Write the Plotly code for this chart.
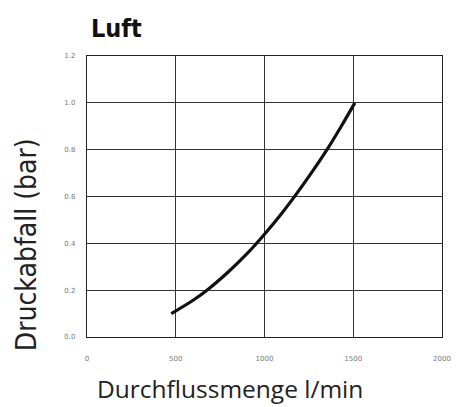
import plotly.graph_objects as go

flow = [475, 600, 681, 800, 903, 1000, 1100, 1176, 1270, 1352, 1430, 1509]
pressure_drop = [0.100, 0.158, 0.203, 0.281, 0.357, 0.439, 0.531, 0.607, 0.707, 0.800, 0.897, 1.000]
x_ticks = [0, 500, 1000, 1500, 2000]
y_ticks = [0.0, 0.2, 0.4, 0.6, 0.8, 1.0, 1.2]
y_tick_labels = ["0.0", "0.2", "0.4", "0.6", "0.8", "1.0", "1.2"]

fig = go.Figure()
fig.add_trace(go.Scatter(x=flow, y=pressure_drop, mode="lines",
                         line=dict(color="#111111", width=3.2, shape="spline", smoothing=1.0),
                         showlegend=False, hoverinfo="skip"))

axis_common = dict(showgrid=True, gridcolor="#333333", gridwidth=1,
                   showline=True, linecolor="#222222", linewidth=1.3, mirror=True,
                   zeroline=False, ticks="",
                   tickfont=dict(family="DejaVu Sans", size=7, color="#777777"))

fig.update_xaxes(range=[0, 2000], tickvals=x_ticks, ticktext=[str(v) for v in x_ticks],
                 ticklabelstandoff=14, ticklabeloverflow="allow", **axis_common)
fig.update_yaxes(range=[0, 1.2], tickvals=y_ticks, ticktext=y_tick_labels,
                 ticklabelstandoff=9, **axis_common)

fig.update_layout(
    width=463, height=407,
    margin=dict(l=87, r=15, t=56, b=70),
    paper_bgcolor="white", plot_bgcolor="white",
    annotations=[
        dict(text="<b>Luft</b>", xref="paper", yref="paper", x=0.006, y=1.04,
             xanchor="left", yanchor="bottom", showarrow=False,
             font=dict(family="DejaVu Sans Condensed", size=25, color="#111111")),
        dict(text="Durchflussmenge l/min", xref="paper", yref="paper", x=0.022, y=-0.118,
             xanchor="left", yanchor="top", showarrow=False,
             font=dict(family="Open Sans", size=24.5, color="#222222")),
        dict(text="Druckabfall (bar)", xref="paper", yref="paper", x=-0.172, y=0.33,
             xanchor="center", yanchor="middle", textangle=-90, showarrow=False,
             font=dict(family="DejaVu Sans Condensed", size=28, color="#222222")),
    ],
)

fig.write_html("out.html", config={"displayModeBar": False},
               post_script="document.body.style.margin='0';document.body.style.padding='0';")
